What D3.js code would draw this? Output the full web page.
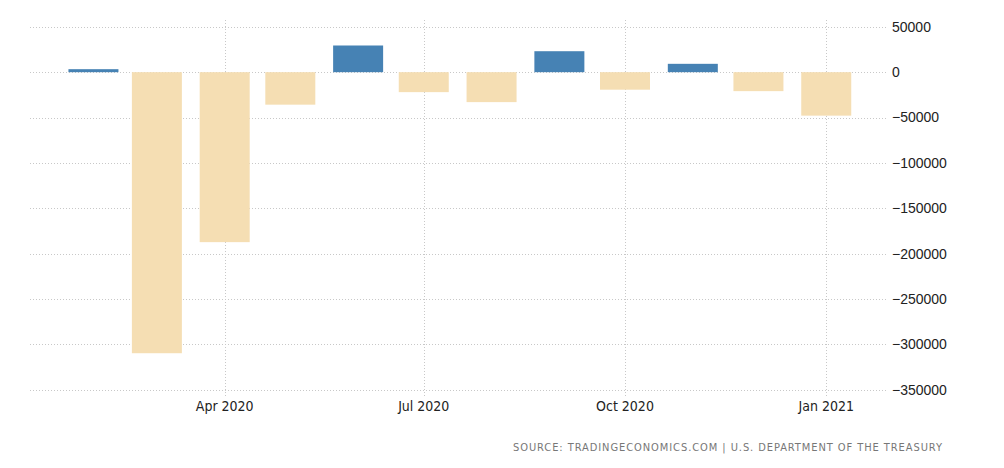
<!DOCTYPE html>
<html><head><meta charset="utf-8">
<script src="https://cdn.jsdelivr.net/npm/d3@7"></script>
<style>body{margin:0;background:#fff}svg{display:block}</style>
</head><body>
<script>
const months = ["2020-02-01","2020-03-01","2020-04-01","2020-05-01","2020-06-01","2020-07-01","2020-08-01","2020-09-01","2020-10-01","2020-11-01","2020-12-01","2021-01-01"];
const values = [3300,-309700,-187300,-35800,29400,-22000,-33000,23100,-19300,9200,-20900,-47900];
const yTicks = [50000,0,-50000,-100000,-150000,-200000,-250000,-300000,-350000];
const xTicks = ["2020-04-01","2020-07-01","2020-10-01","2021-01-01"];
const xTickLabels = ["Apr 2020","Jul 2020","Oct 2020","Jan 2021"];
const sourceText = "SOURCE: TRADINGECONOMICS.COM | U.S. DEPARTMENT OF THE TREASURY";

const W=1004,H=468;
const parse = d3.utcParse("%Y-%m-%d");
const svg = d3.select("body").append("svg").attr("width",W).attr("height",H);
const x = d3.scaleUtc().domain([parse("2020-01-03"),parse("2021-01-21")]).range([30,870]);
const y = d3.scaleLinear().domain([-350000,50000]).range([389.8,26.8]);

// horizontal grid
svg.append("g").selectAll("line").data(yTicks).join("line")
  .attr("x1",30).attr("x2",887).attr("y1",d=>Math.round(y(d))+0.5).attr("y2",d=>Math.round(y(d))+0.5)
  .attr("stroke","#c8c8c8").attr("stroke-dasharray","1,2").attr("stroke-width",1);
// vertical grid
svg.append("g").selectAll("line").data(xTicks).join("line")
  .attr("x1",d=>Math.round(x(parse(d)))+0.5).attr("x2",d=>Math.round(x(parse(d)))+0.5)
  .attr("y1",20).attr("y2",396)
  .attr("stroke","#c8c8c8").attr("stroke-dasharray","1,2").attr("stroke-width",1);

const bw = 50;
svg.append("g").selectAll("rect").data(values).join("rect")
  .attr("x",(d,i)=>x(parse(months[i]))-bw/2)
  .attr("width",bw)
  .attr("y",d=>y(Math.max(0,d)))
  .attr("height",d=>Math.abs(y(d)-y(0)))
  .attr("fill",d=>d>=0?"#4682b4":"#f5deb3");

svg.append("g").selectAll("text").data(yTicks).join("text")
  .attr("x",892).attr("y",d=>y(d)).attr("dy","0.35em")
  .attr("font-family","Liberation Sans, Arial, sans-serif").attr("font-size",14)
  .attr("fill","#222").text(d=>d3.format("d")(d));

svg.append("g").selectAll("text").data(xTicks).join("text")
  .attr("x",d=>x(parse(d))).attr("y",411).attr("text-anchor","middle")
  .attr("font-family","DejaVu Sans Condensed, DejaVu Sans, sans-serif").attr("font-size",14)
  .attr("fill","#222").text((d,i)=>xTickLabels[i]);

svg.append("text").attr("x",942).attr("y",451).attr("text-anchor","end")
  .attr("font-family","DejaVu Sans Condensed, DejaVu Sans, sans-serif").attr("font-size",11)
  .attr("fill","#777").attr("textLength",429).attr("lengthAdjust","spacing")
  .text(sourceText);
</script>
</body></html>
